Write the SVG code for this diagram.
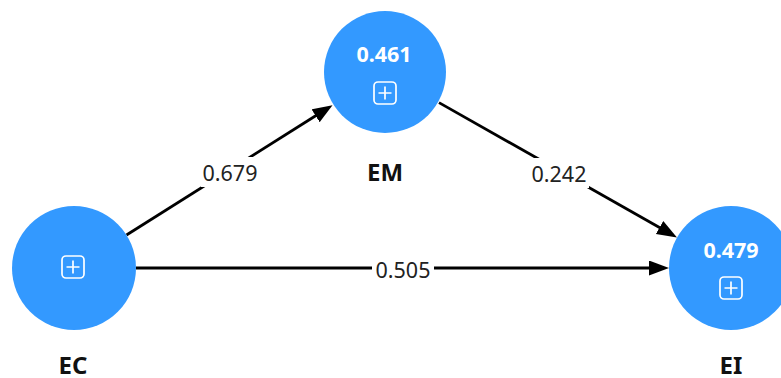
<svg xmlns="http://www.w3.org/2000/svg" width="781" height="378" viewBox="0 0 781 378">
<style>
.node{fill:#3399ff}
.val{font-family:"Noto Sans","Open Sans",sans-serif;font-weight:bold;font-size:21.5px;fill:#ffffff;text-anchor:middle}
.name{font-family:"Noto Sans","Open Sans",sans-serif;font-weight:bold;font-size:24px;fill:#111111;text-anchor:middle}
.icon{fill:none;stroke:#ffffff;stroke-width:1.7}
.edge{stroke:#000000;stroke-width:2.8;fill:none}
.lbl{font-family:"Noto Sans","Open Sans",sans-serif;font-size:21.5px;fill:#222222;text-anchor:middle}
.lblbg{fill:#ffffff}
</style>
<defs>
<marker id="arr" markerUnits="userSpaceOnUse" markerWidth="22" markerHeight="18" refX="9" refY="7.5" orient="auto">
<path d="M0,0 L20,7.5 L0,15 Z" fill="#000000"/>
</marker>
<g id="plus">
<rect x="-11" y="-11" width="22" height="22" rx="4" class="icon"/>
<path d="M-6.5,0 H6.5 M0,-6.5 V6.5" class="icon"/>
</g>
</defs>
<g id="connectors">
<line class="edge" x1="126.5" y1="235" x2="323.2" y2="111" marker-end="url(#arr)"/>
<line class="edge" x1="439" y1="102.6" x2="667.4" y2="232" marker-end="url(#arr)"/>
<line class="edge" x1="136" y1="268" x2="658" y2="268" marker-end="url(#arr)"/>
<rect class="lblbg" x="201" y="157" width="59" height="30"/>
<text class="lbl" x="230" y="181">0.679</text>
<rect class="lblbg" x="530" y="158" width="59" height="30"/>
<text class="lbl" x="559" y="182">0.242</text>
<rect class="lblbg" x="372" y="255" width="62" height="28"/>
<text class="lbl" x="403" y="278">0.505</text>
</g>
<g id="EM">
<circle class="node" cx="385" cy="72" r="61"/>
<text class="val" x="384" y="62">0.461</text>
<use href="#plus" x="385" y="93"/>
<text class="name" x="385" y="181">EM</text>
</g>
<g id="EC">
<circle class="node" cx="74" cy="268" r="62"/>
<use href="#plus" x="73" y="267"/>
<text class="name" x="73" y="374">EC</text>
</g>
<g id="EI">
<circle class="node" cx="731" cy="268" r="62"/>
<text class="val" x="731" y="258">0.479</text>
<use href="#plus" x="731" y="288"/>
<text class="name" x="731" y="374">EI</text>
</g>
</svg>
